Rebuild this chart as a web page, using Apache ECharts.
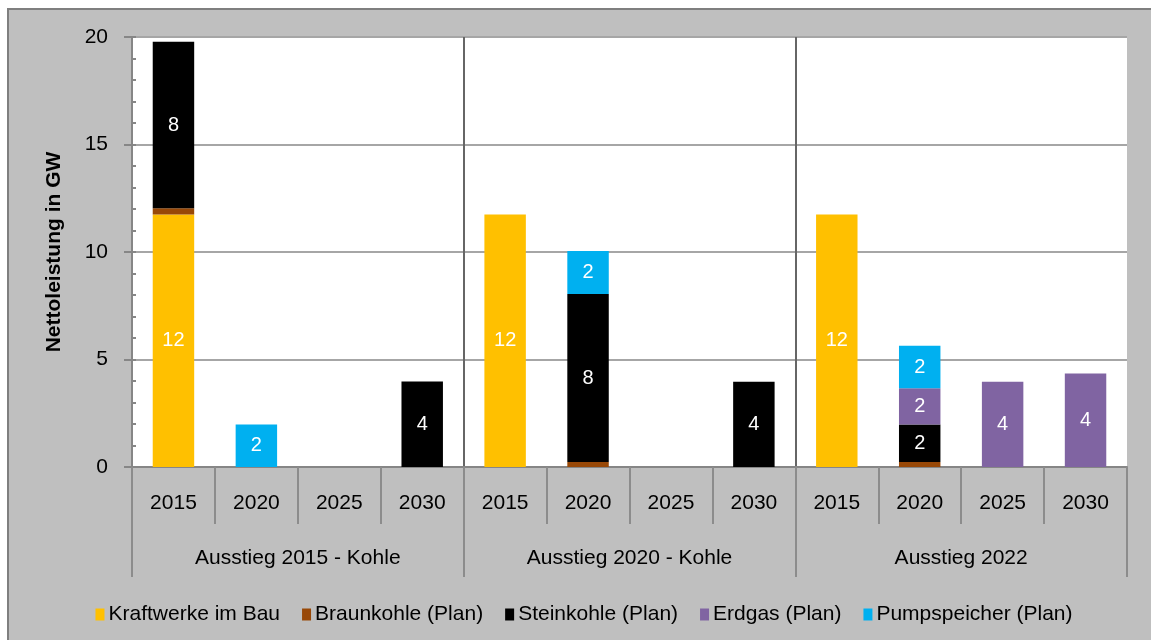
<!DOCTYPE html>
<html>
<head>
<meta charset="utf-8">
<script src="https://cdn.jsdelivr.net/npm/echarts@6/dist/echarts.min.js"></script>
<style>
  html, body { margin: 0; padding: 0; background: #fff; overflow: hidden; }
  #chart {
    position: absolute;
    left: 7px;
    top: 8px;
    width: 1150px;
    height: 632px;
    border-left: 2px solid #7f7f7f;
    border-top: 2px solid #7f7f7f;
  }
</style>
</head>
<body>
<div id="chart"></div>
<script>
// categories
var years = ['2015', '2020', '2025', '2030', '2015', '2020', '2025', '2030', '2015', '2020', '2025', '2030']
var groups = ['Ausstieg 2015 - Kohle', 'Ausstieg 2020 - Kohle', 'Ausstieg 2022']

// series values (GW)
var kraftwerkeImBau = [11.75, 0, 0, 0, 11.75, 0, 0, 0, 11.75, 0, 0, 0]
var braunkohle = [0.28, 0, 0, 0, 0, 0.23, 0, 0, 0, 0.23, 0, 0]
var steinkohle = [7.75, 0, 0, 3.98, 0, 7.82, 0, 3.97, 0, 1.75, 0, 0]
var erdgas = [0, 0, 0, 0, 0, 0, 0, 0, 0, 1.68, 3.97, 4.35]
var pumpspeicher = [0, 1.98, 0, 0, 0, 2.0, 0, 0, 0, 1.98, 0, 0]

var yTicks = [0, 5, 10, 15, 20]

var font = 'Liberation Sans, Arial, sans-serif'

var chart = echarts.init(document.getElementById('chart'))

function barLabel() {
  return {
    show: true,
    position: 'inside',
    color: '#fff',
    fontSize: 20,
    fontFamily: font,
    formatter: function(p) {
      return p.value >= 1 ? Math.round(p.value) : ''
    }
  }
}

function makeSeries(name, data, color) {
  return {
    name: name,
    type: 'bar',
    stack: 'total',
    barWidth: '50%',
    data: data,
    itemStyle: { color: color },
    label: barLabel(),
    animation: false
  }
}

chart.setOption({
  backgroundColor: '#bfbfbf',
  textStyle: { fontFamily: font },
  grid: {
    left: 123,
    right: 32,
    top: 27,
    bottom: 175,
    show: true,
    backgroundColor: '#fff',
    borderWidth: 0
  },
  legend: {
    top: 589,
    left: 'center',
    itemWidth: 9,
    itemHeight: 12,
    itemGap: 22,
    icon: 'rect',
    textStyle: { fontSize: 21, color: '#000', fontFamily: font, padding: [0, 0, 0, -1] },
    data: ['Kraftwerke im Bau', 'Braunkohle (Plan)', 'Steinkohle (Plan)', 'Erdgas (Plan)', 'Pumpspeicher (Plan)']
  },
  xAxis: [
    {
      type: 'category',
      data: years,
      position: 'bottom',
      axisLine: { lineStyle: { color: '#868686', width: 2 } },
      axisTick: { show: true, length: 57, interval: 0, lineStyle: { color: '#8c8c8c', width: 2 } },
      axisLabel: { fontSize: 21, color: '#000', margin: 26, interval: 0 },
      splitLine: { show: false }
    },
    {
      type: 'category',
      data: groups,
      position: 'bottom',
      axisLine: { show: false },
      axisTick: { show: true, length: 110, interval: 0, lineStyle: { color: '#8c8c8c', width: 2 } },
      axisLabel: { fontSize: 21, color: '#000', margin: 81, interval: 0 },
      splitLine: { show: true, interval: 0, showMinLine: false, showMaxLine: false, lineStyle: { color: '#666', width: 2 } }
    }
  ],
  yAxis: [
    {
      type: 'value',
      min: 0,
      max: 20,
      interval: 5,
      name: 'Nettoleistung in GW',
      nameLocation: 'middle',
      nameGap: 67,
      nameTextStyle: { fontSize: 21, fontWeight: 'bold', color: '#000', fontFamily: font },
      axisLine: { show: true, lineStyle: { color: '#868686', width: 2 } },
      axisTick: { show: true, length: 8, lineStyle: { color: '#868686', width: 2 } },
      axisLabel: { fontSize: 21, color: '#000', margin: 24, customValues: yTicks },
      splitLine: { show: true, showMinLine: false, lineStyle: { color: '#a6a6a6', width: 2 } }
    },
    {
      type: 'value',
      min: 0,
      max: 20,
      interval: 1,
      position: 'left',
      axisLine: { show: false },
      axisTick: { show: true, inside: true, length: 4, lineStyle: { color: '#868686', width: 2 } },
      axisLabel: { show: false },
      splitLine: { show: false }
    }
  ],
  series: [
    makeSeries('Kraftwerke im Bau', kraftwerkeImBau, '#ffc000'),
    makeSeries('Braunkohle (Plan)', braunkohle, '#984807'),
    makeSeries('Steinkohle (Plan)', steinkohle, '#000000'),
    makeSeries('Erdgas (Plan)', erdgas, '#8064a2'),
    makeSeries('Pumpspeicher (Plan)', pumpspeicher, '#00b0f0')
  ]
})
</script>
</body>
</html>
